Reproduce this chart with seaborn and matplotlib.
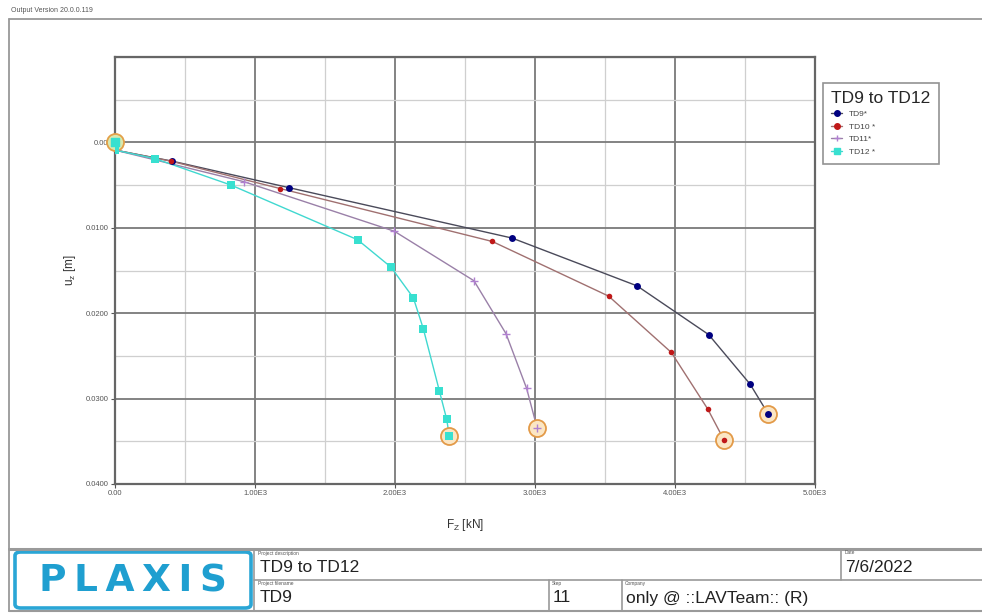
import numpy as np
import pandas as pd
import matplotlib
matplotlib.use("Agg")
import matplotlib.pyplot as plt
from matplotlib.patches import FancyBboxPatch
from matplotlib.lines import Line2D
from matplotlib.ticker import MultipleLocator, FixedLocator, FixedFormatter
import seaborn as sns

# Load-displacement curves (F_Z in kN, u_z in m)
td9_f = [0, 0, 410, 1243, 2836, 3729, 4240, 4536, 4666]
td9_u = [0, 0.0009, 0.0022, 0.0053, 0.0112, 0.0168, 0.0225, 0.0283, 0.0318]

td10_f = [0, 0, 400, 1179, 2695, 3526, 3974, 4233, 4352]
td10_u = [0, 0.0009, 0.0022, 0.0054, 0.0116, 0.0180, 0.0246, 0.0312, 0.0349]

td11_f = [0, 0, 921, 1995, 2564, 2793, 2940, 3016]
td11_u = [0, 0.0009, 0.0046, 0.0104, 0.0162, 0.0224, 0.0288, 0.0335]

td12_f = [0, 0, 286, 829, 1733, 1971, 2131, 2202, 2317, 2369, 2388]
td12_u = [0, 0.0009, 0.0019, 0.0050, 0.0114, 0.0146, 0.0182, 0.0218, 0.0291, 0.0324, 0.0344]

series_names = ["TD9*", "TD10 *", "TD11*", "TD12 *"]
x_ticks = [0, 1000, 2000, 3000, 4000, 5000]
x_tick_labels = ["0.00", "1.00E3", "2.00E3", "3.00E3", "4.00E3", "5.00E3"]
y_ticks = [0.0, 0.01, 0.02, 0.03, 0.04]
y_tick_labels = ["0.00", "0.0100", "0.0200", "0.0300", "0.0400"]

sns.set_style("white")
plt.rcParams["font.family"] = ["Liberation Sans", "DejaVu Sans"]

fig = plt.figure(figsize=(9.82, 6.14), dpi=100)
W, H = 982, 614


def fx(px):
    return px / W


def fy(py):
    return 1 - py / H


ax = fig.add_axes([fx(115), fy(484), fx(815) - fx(115), fy(57) - fy(484)])

styles = [
    dict(name=series_names[0], f=td9_f, u=td9_u, line="#4a4a5a", mc="#000080", marker="o", ms=5),
    dict(name=series_names[1], f=td10_f, u=td10_u, line="#a07070", mc="#c01818", marker="o", ms=4),
    dict(name=series_names[2], f=td11_f, u=td11_u, line="#9a80a8", mc="#b080d0", marker="+", ms=6),
    dict(name=series_names[3], f=td12_f, u=td12_u, line="#40d8d0", mc="#38e0d0", marker="s", ms=6),
]

handles = []
for s in styles:
    df = pd.DataFrame({"F": s["f"], "u": s["u"]})
    sns.lineplot(data=df, x="F", y="u", sort=False, estimator=None, ax=ax,
                 color=s["line"], lw=1.0, zorder=3)
    sns.scatterplot(data=df.iloc[1:], x="F", y="u", ax=ax, marker=s["marker"],
                    color=s["mc"], s=s["ms"] ** 2, linewidth=1.0 if s["marker"] == "+" else 0,
                    zorder=5)
    # highlighted end point
    ax.scatter(df["F"].iloc[-1], df["u"].iloc[-1], s=150, facecolor="#fbe6c4",
               edgecolor="#e39a48", linewidth=1.3, zorder=4)
    handles.append(Line2D([0], [0], color=s["line"], lw=1.0, marker=s["marker"],
                          markerfacecolor=s["mc"], markeredgecolor=s["mc"], markersize=4))

# highlighted start point
ax.scatter(0, 0, s=150, facecolor="#d8e8b0", edgecolor="#e3a048", linewidth=1.3, zorder=4,
           clip_on=False)
ax.scatter(0, 0, s=36, marker="s", color="#38e0d0", zorder=6, clip_on=False)

ax.set_xlim(0, 5000)
ax.set_ylim(0.04, -0.01)
ax.xaxis.set_major_locator(FixedLocator(x_ticks))
ax.xaxis.set_major_formatter(FixedFormatter(x_tick_labels))
ax.yaxis.set_major_locator(FixedLocator(y_ticks))
ax.yaxis.set_major_formatter(FixedFormatter(y_tick_labels))
ax.xaxis.set_minor_locator(MultipleLocator(500))
ax.yaxis.set_minor_locator(MultipleLocator(0.005))
ax.grid(which="major", color="#7a7a7a", lw=1.3, zorder=1)
ax.grid(which="minor", color="#cfcfcf", lw=0.9, zorder=1)
ax.set_axisbelow(True)
ax.tick_params(axis="both", which="major", labelsize=5.5, labelcolor="#555555",
               length=3, width=0.8, color="#555555", pad=1.5, left=True, bottom=True)
ax.tick_params(axis="both", which="minor", length=0)
for sp in ax.spines.values():
    sp.set_color("#666666")
    sp.set_linewidth(1.6)

ax.set_xlabel(r"F$_\mathregular{Z}$ [kN]", fontsize=8.5, color="#333333", labelpad=14)
ax.set_ylabel(r"u$_\mathregular{z}$ [m]", fontsize=8.5, color="#333333", labelpad=6)

leg = fig.legend(handles=handles, labels=series_names, title="TD9 to TD12",
                 loc="upper left", bbox_to_anchor=(fx(823), fy(83)), frameon=True,
                 fontsize=6, title_fontsize=12.5, handlelength=1.3, handletextpad=0.8,
                 labelspacing=0.55, borderpad=1.0, borderaxespad=0, fancybox=False)
leg.get_frame().set_edgecolor("#777777")
leg.get_frame().set_linewidth(1.2)
leg._legend_box.align = "left"
leg._legend_box.sep = 3
for t in leg.get_texts():
    t.set_color("#444444")

# page frame and header
fig.text(fx(11), fy(10), "Output Version 20.0.0.119", fontsize=5, color="#555555", va="center")
fig.add_artist(Line2D([fx(9), 1], [fy(19), fy(19)], color="#999999", lw=1.3))
fig.add_artist(Line2D([fx(9), fx(9)], [fy(19), fy(549)], color="#999999", lw=1.3))

# title block
grey = "#9a9a9a"
fig.add_artist(Line2D([fx(9), 1], [fy(549), fy(549)], color=grey, lw=2.2))
fig.add_artist(Line2D([fx(9), 1], [fy(611), fy(611)], color=grey, lw=1.5))
fig.add_artist(Line2D([fx(9), fx(9)], [fy(549), fy(611)], color=grey, lw=1.3))
fig.add_artist(Line2D([fx(254), 1], [fy(580), fy(580)], color=grey, lw=1.2))
fig.add_artist(Line2D([fx(254), fx(254)], [fy(549), fy(611)], color=grey, lw=1.2))
fig.add_artist(Line2D([fx(841), fx(841)], [fy(549), fy(580)], color=grey, lw=1.2))
fig.add_artist(Line2D([fx(549), fx(549)], [fy(580), fy(611)], color=grey, lw=1.2))
fig.add_artist(Line2D([fx(622), fx(622)], [fy(580), fy(611)], color=grey, lw=1.2))

fig.add_artist(FancyBboxPatch((fx(15), fy(608)), fx(251) - fx(15), fy(552) - fy(608),
                              boxstyle="round,pad=0,rounding_size=0.006",
                              transform=fig.transFigure, facecolor="white",
                              edgecolor="#2aa6d6", lw=2.6))
fig.text(fx(133), fy(581), "P\u2009L\u2009A\u2009X\u2009I\u2009S", fontsize=27,
         fontweight="bold", color="#1f9fd0", ha="center", va="center", family="DejaVu Sans")

cap = dict(fontsize=3.5, color="#555555", va="top")
fig.text(fx(258), fy(550.5), "Project description", **cap)
fig.text(fx(258), fy(581.5), "Project filename", **cap)
fig.text(fx(552), fy(581.5), "Step", **cap)
fig.text(fx(625), fy(581.5), "Company", **cap)
fig.text(fx(845), fy(550.5), "Date", **cap)

val = dict(fontsize=12.5, color="#222222", va="center")
fig.text(fx(260), fy(568), "TD9 to TD12", **val)
fig.text(fx(260), fy(598), "TD9", **val)
fig.text(fx(553), fy(598), "11", **val)
fig.text(fx(626), fy(598), "only @ ::LAVTeam:: (R)", **val)
fig.text(fx(845), fy(568), "7/6/2022", **val)

fig.savefig("out.png", dpi=100, facecolor="white")
